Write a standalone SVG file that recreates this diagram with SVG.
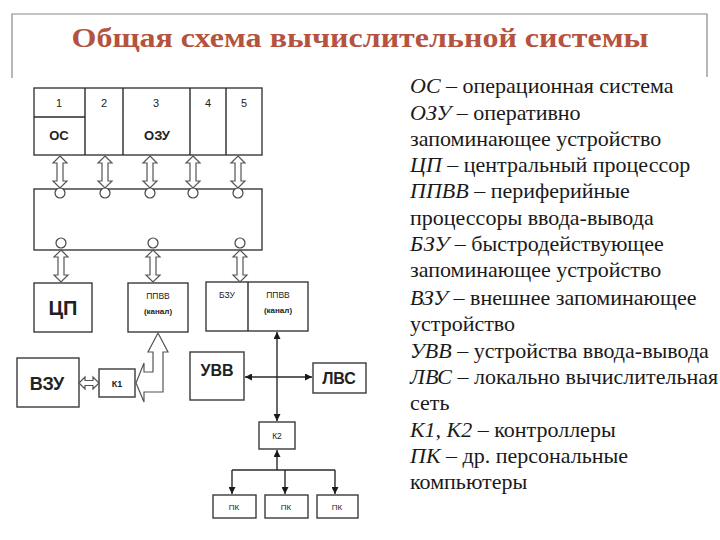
<svg xmlns="http://www.w3.org/2000/svg" width="720" height="540" viewBox="0 0 720 540">
<defs>
<style>
.box{fill:#fff;stroke:#3a3a3a;stroke-width:1.4}
.ln{fill:none;stroke:#2a2a2a;stroke-width:1.4}
.darr{fill:#fff;stroke:#555;stroke-width:1.2}
.circ{fill:#fff;stroke:#444;stroke-width:1.2}
.b{font-weight:bold}
.it{font-style:italic}
</style>
<path id="dv" d="M0,0 L7,7 L3,7 L3,25 L7,25 L0,32 L-7,25 L-3,25 L-3,7 L-7,7 Z"/>
<marker id="ah" viewBox="0 0 10 10" refX="10" refY="5" markerWidth="7" markerHeight="7" orient="auto-start-reverse" markerUnits="userSpaceOnUse">
<path d="M0,0 L10,5 L0,10 Z" fill="#1a1a1a"/>
</marker>
</defs>
<rect width="720" height="540" fill="#fff"/>

<g id="title">
<path d="M12,78 L12,14 L707,14 L707,77" fill="none" stroke="#888" stroke-width="1.2"/>
<text x="360" y="47" text-anchor="middle" font-family="Liberation Serif, serif" font-weight="bold" font-size="28" fill="#b4533f" textLength="577" lengthAdjust="spacingAndGlyphs">Общая схема вычислительной системы</text>
</g>

<g font-family="Liberation Sans, Arial, sans-serif" fill="#222">
<g id="memory">
<rect class="box" x="34" y="88" width="228" height="67"/>
<path class="ln" d="M85,88 V155 M123,88 V155 M190,88 V155 M226,88 V155 M34,117 H85" stroke-width="1.1"/>
<g font-size="11" text-anchor="middle">
<text x="59" y="107">1</text><text x="104" y="107">2</text><text x="156" y="107">3</text><text x="208" y="107">4</text><text x="244" y="107">5</text>
</g>
<text class="b" x="59" y="140" font-size="13" text-anchor="middle">ОС</text>
<text class="b" x="157" y="140" font-size="13" text-anchor="middle">ОЗУ</text>
</g>

<g id="bus">
<rect class="box" x="34" y="189" width="228" height="61"/>
</g>

<g id="cpu">
<rect class="box" x="34" y="283" width="58" height="49"/>
<text class="b" x="63" y="315" font-size="20" text-anchor="middle">ЦП</text>
</g>

<g id="ppvv1">
<rect class="box" x="128" y="283" width="60" height="49"/>
<text x="158" y="299" font-size="8.5" text-anchor="middle">ППВВ</text>
<text class="b" x="158" y="314" font-size="8" text-anchor="middle">(канал)</text>
</g>

<g id="bzu-ppvv2">
<rect class="box" x="206" y="282" width="102" height="49"/>
<path class="ln" d="M248,282 V331" stroke-width="1.1"/>
<text x="227" y="298" font-size="8.5" text-anchor="middle">БЗУ</text>
<text x="278" y="298" font-size="8.5" text-anchor="middle">ППВВ</text>
<text class="b" x="278" y="313" font-size="8" text-anchor="middle">(канал)</text>
</g>

<g id="vzu">
<rect class="box" x="17" y="358" width="62" height="49"/>
<text class="b" x="47" y="390" font-size="18" text-anchor="middle">ВЗУ</text>
</g>

<g id="k1">
<rect class="box" x="99" y="369" width="36" height="28"/>
<text class="b" x="117" y="387" font-size="9" text-anchor="middle">К1</text>
</g>

<g id="uvv">
<rect class="box" x="190" y="352" width="54" height="48"/>
<text class="b" x="217" y="376" font-size="16" text-anchor="middle">УВВ</text>
</g>

<g id="lvs">
<rect class="box" x="313" y="363" width="53" height="30"/>
<text class="b" x="339" y="384" font-size="16" text-anchor="middle">ЛВС</text>
</g>

<g id="k2">
<rect class="box" x="259" y="422" width="36" height="27"/>
<text x="277" y="439" font-size="8.5" text-anchor="middle">К2</text>
</g>

<g id="pk1">
<rect class="box" x="213" y="495" width="43" height="23"/>
<text x="234" y="510" font-size="8" text-anchor="middle">ПК</text>
</g>
<g id="pk2">
<rect class="box" x="265" y="495" width="43" height="23"/>
<text x="286" y="510" font-size="8" text-anchor="middle">ПК</text>
</g>
<g id="pk3">
<rect class="box" x="317" y="495" width="41" height="23"/>
<text x="337" y="510" font-size="8" text-anchor="middle">ПК</text>
</g>
</g>

<g id="connectors">
<use href="#dv" class="darr" x="60" y="156"/>
<use href="#dv" class="darr" x="105" y="156"/>
<use href="#dv" class="darr" x="150" y="156"/>
<use href="#dv" class="darr" x="193" y="156"/>
<use href="#dv" class="darr" x="238" y="156"/>
<circle class="circ" cx="60" cy="193" r="5"/>
<circle class="circ" cx="105" cy="193" r="5"/>
<circle class="circ" cx="150" cy="193" r="5"/>
<circle class="circ" cx="193" cy="193" r="5"/>
<circle class="circ" cx="238" cy="193" r="5"/>
<use href="#dv" class="darr" x="61" y="250"/>
<use href="#dv" class="darr" x="153" y="250"/>
<use href="#dv" class="darr" x="240" y="250"/>
<circle class="circ" cx="61" cy="243" r="5"/>
<circle class="circ" cx="153" cy="243" r="5"/>
<circle class="circ" cx="240" cy="243" r="5"/>
<path class="darr" d="M79,383 L85,377 L85,380.5 L93,380.5 L93,377 L99,383 L93,389 L93,385.5 L85,385.5 L85,389 Z"/>
<path class="darr" d="M136,383 L144,363 L144,372 L153,372 L153,352 L148,352 L158,333 L168,352 L163,352 L163,392 L144,392 L144,402 Z"/>
<path class="ln" d="M277,332 V421" marker-start="url(#ah)" marker-end="url(#ah)"/>
<path class="ln" d="M245,377 H312" marker-start="url(#ah)" marker-end="url(#ah)"/>
<path class="ln" d="M277,470 V450" marker-end="url(#ah)"/>
<path class="ln" d="M232,470 H335"/>
<path class="ln" d="M232,470 V494" marker-end="url(#ah)"/>
<path class="ln" d="M285,470 V494" marker-end="url(#ah)"/>
<path class="ln" d="M335,470 V494" marker-end="url(#ah)"/>
</g>

<g id="legend" font-family="Liberation Serif, serif" font-size="22" fill="#1a1a1a">
<text x="410" y="93"><tspan class="it">ОС</tspan> – операционная система</text>
<text x="410" y="120"><tspan class="it">ОЗУ</tspan> – оперативно</text>
<text x="410" y="146">запоминающее устройство</text>
<text x="410" y="172"><tspan class="it">ЦП</tspan> – центральный процессор</text>
<text x="410" y="198"><tspan class="it">ППВВ</tspan> – периферийные</text>
<text x="410" y="225">процессоры ввода-вывода</text>
<text x="410" y="251"><tspan class="it">БЗУ</tspan> – быстродействующее</text>
<text x="410" y="277">запоминающее устройство</text>
<text x="410" y="305"><tspan class="it">ВЗУ</tspan> – внешнее запоминающее</text>
<text x="410" y="331">устройство</text>
<text x="410" y="358"><tspan class="it">УВВ</tspan> – устройства ввода-вывода</text>
<text x="410" y="384"><tspan class="it">ЛВС</tspan> – локально вычислительная</text>
<text x="410" y="410">сеть</text>
<text x="410" y="437"><tspan class="it">К1, К2</tspan> – контроллеры</text>
<text x="410" y="463"><tspan class="it">ПК</tspan> – др. персональные</text>
<text x="410" y="489">компьютеры</text>
</g>
</svg>
